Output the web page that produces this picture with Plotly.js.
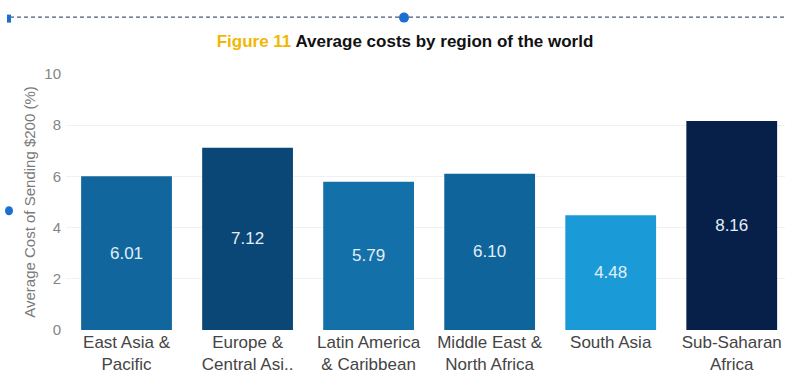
<!DOCTYPE html>
<html><head><meta charset="utf-8">
<script src="https://cdn.plot.ly/plotly-3.0.1.min.js"></script>
<style>html,body{margin:0;padding:0;background:#fff}#chart{width:785px;height:391px}</style>
</head><body><div id="chart"></div>
<script>
const categories = ["East Asia &<br>Pacific", "Europe &<br>Central Asi..", "Latin America<br>& Caribbean", "Middle East &<br>North Africa", "South Asia", "Sub-Saharan<br>Africa"];
const costs = [6.01, 7.12, 5.79, 6.10, 4.48, 8.16];
const costLabels = ["6.01", "7.12", "5.79", "6.10", "4.48", "8.16"];
const barColors = ["#11679d", "#0b4776", "#1470a8", "#0f649c", "#1a9bd7", "#06204a"];
const yTicks = [0, 2, 4, 6, 8, 10];

const W = 785, H = 391, L = 66, R = 0, T = 73.5, B = 61;
const pw = W - L - R, ph = H - T - B;
const px = x => (x - L) / pw;
const py = y => (H - B - y) / ph;

const trace = {
  type: 'bar', x: categories, y: costs,
  marker: {color: barColors},
  text: costLabels, textposition: 'inside', insidetextanchor: 'middle',
  textfont: {family: 'Liberation Sans, Arial, sans-serif', size: 17, color: '#e3eef7'},
  hoverinfo: 'skip'
};

const layout = {
  width: W, height: H,
  margin: {l: L, r: R, t: T, b: B, pad: 0},
  paper_bgcolor: '#fff', plot_bgcolor: '#fff',
  bargap: 0.25,
  showlegend: false,
  font: {family: 'Liberation Sans, Arial, sans-serif'},
  title: {
    text: '<span style="color:#f2b705">Figure 11</span> Average costs by region of the world',
    font: {family: 'Liberation Sans, Arial, sans-serif', size: 17, color: '#111', weight: 'bold'},
    x: 405 / W, xanchor: 'center', y: 1 - 41 / H, yanchor: 'middle'
  },
  xaxis: {
    range: [-0.5, 5.44], showgrid: false, zeroline: false, showline: false,
    tickfont: {size: 17, color: '#444'}, ticks: '', fixedrange: true, automargin: false
  },
  yaxis: {
    range: [0, 10], tickvals: yTicks, ticktext: yTicks.map(String),
    showgrid: true, gridcolor: '#f1f1f1', zeroline: false, showline: false,
    tickfont: {size: 15, color: '#858585'}, ticks: '', ticklabelstandoff: 4, automargin: false,
    title: {text: 'Average Cost of Sending $200 (%)', font: {size: 15, color: '#7a7a7a'}, standoff: 5}
  },
  shapes: [
    {type: 'line', xref: 'paper', yref: 'paper', x0: px(10), x1: px(785), y0: py(16.5), y1: py(16.5),
     line: {color: '#4a5a78', width: 1.2, dash: '4px,3px'}},
    {type: 'circle', xref: 'paper', yref: 'paper', x0: px(399), x1: px(409), y0: py(12), y1: py(22),
     fillcolor: '#1a6fd0', line: {width: 0}},
    {type: 'rect', xref: 'paper', yref: 'paper', x0: px(7), x1: px(11), y0: py(14), y1: py(22),
     fillcolor: '#1a6fd0', line: {width: 0}},
    {type: 'circle', xref: 'paper', yref: 'paper', x0: px(5), x1: px(13), y0: py(206), y1: py(215),
     fillcolor: '#1a6fd0', line: {width: 0}}
  ]
};

Plotly.newPlot('chart', [trace], layout, {displayModeBar: false, staticPlot: true});
</script></body></html>
